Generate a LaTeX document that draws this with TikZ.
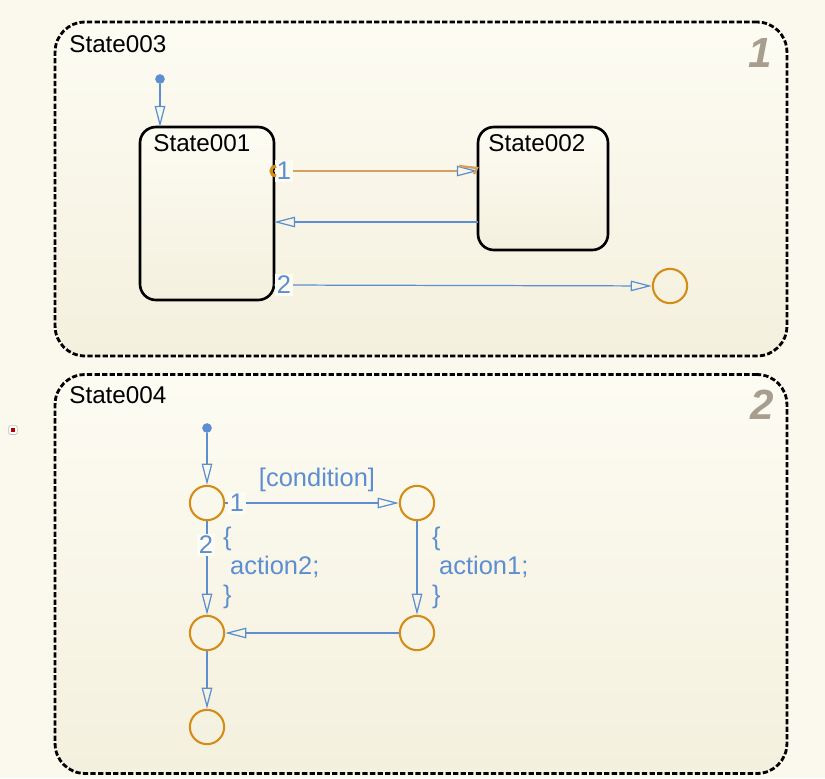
\documentclass[tikz,border=0pt]{standalone}
\usepackage{fontspec}
\setmainfont{Liberation Sans}
\usetikzlibrary{arrows.meta,positioning}
\definecolor{PageColor}{RGB}{251,249,237}
\definecolor{BoxTop}{RGB}{253,252,243}
\definecolor{BoxBottom}{RGB}{244,240,222}
\definecolor{TransColor}{RGB}{92,142,208}
\definecolor{JunctionColor}{RGB}{212,142,24}
\definecolor{ActiveColor}{RGB}{214,160,96}
\definecolor{NumberColor}{RGB}{168,158,142}
\tikzset{
  chartbox/.style={draw=black, line width=1.6pt, dash pattern=on 3pt off 1.3pt, rounded corners=17pt, top color=BoxTop, bottom color=BoxBottom, minimum width=#1},
  statebox/.style={draw=black, line width=1.5pt, rounded corners=9pt, top color=BoxTop, bottom color=BoxBottom, minimum width=#1},
  junction/.style={circle, draw=JunctionColor, line width=1.2pt, minimum size=19.5pt, inner sep=0pt},
  defaultdot/.style={circle, fill=TransColor, inner sep=0pt, minimum size=5.5pt},
  chartname/.style={anchor=west, font=\fontsize{13.8}{16}\selectfont, inner sep=0pt},
  chartnumber/.style={font=\fontsize{24}{28}\selectfont\bfseries\itshape, text=NumberColor},
  translabel/.style={font=\fontsize{14.5}{16.5}\selectfont, text=TransColor, inner sep=1pt},
  transorder/.style={font=\fontsize{14.5}{16.5}\selectfont, text=TransColor, fill=BoxTop, inner sep=1pt},
  trans/.style={draw=TransColor, line width=0.7pt, -{Triangle[open, length=12pt, width=6pt, line width=0.7pt, color=TransColor]}},
}
\begin{document}
\begin{tikzpicture}[x=0.02cm, y=-0.02cm]
  \fill[PageColor] (0,0) rectangle (825,778);
  \useasboundingbox (0,0) rectangle (825,778);

  \node[draw=gray!50, fill=white, minimum size=5pt, inner sep=0pt, rounded corners=1pt] (icon) at (13,430) {};
  \node[fill=red!70!black, minimum size=2pt, inner sep=0pt] (icondot) at (13,430) {};

  \node[chartbox=14.64cm, minimum height=6.68cm] (State003) at (421,189) {};
  \node[chartbox=14.64cm, minimum height=7.98cm] (State004) at (421,574) {};
  \node[chartname] (name003) at (69,44) {State003};
  \node[chartname] (name004) at (69,395) {State004};
  \node[chartnumber] (num1) at (760,53) {1};
  \node[chartnumber] (num2) at (762,405) {2};

  \node[statebox=2.68cm, minimum height=3.46cm] (State001) at (207,213.5) {};
  \node[statebox=2.6cm, minimum height=2.46cm] (State002) at (543,188.5) {};
  \node[chartname] (name001) at (153,143) {State001};
  \node[chartname] (name002) at (488,143) {State002};

  \node[defaultdot] (dflt1) at (160,79) {};
  \node[junction] (J0) at (670,286) {};

  \coordinate (s1a) at (274,171);
  \coordinate (s2a) at (478,171);
  \coordinate (s2b) at (478,222);
  \coordinate (s1b) at (274,222);
  \coordinate (s1c) at (274,285);
  \coordinate (s1top) at (160,127);

  \draw[trans] (dflt1) -- (s1top);
  \draw[trans, draw=ActiveColor, line width=1.3pt] (s1a) -- (s2a);
  \draw[trans] (s2b) -- (s1b);
  \draw[trans] (s1c) -- (J0);
  \draw[ActiveColor, line width=1.3pt] (459,166) -- (477,168) -- (474,174);
  \node[transorder] (ord11) at (284,171) {1};
  \node[transorder] (ord12) at (284,285) {2};
  \draw[JunctionColor, line width=1.8pt] (276,176) arc[start angle=90, end angle=270, radius=5];

  \node[defaultdot] (dflt2) at (207,428) {};
  \node[junction] (J1) at (207,503) {};
  \node[junction] (J2) at (417,503) {};
  \node[junction] (J3) at (417,633) {};
  \node[junction] (J4) at (207,633) {};
  \node[junction] (J5) at (207,727) {};

  \draw[trans] (dflt2) -- (J1);
  \draw[trans] (J1) -- (J2);
  \draw[trans] (J2) -- (J3);
  \draw[trans] (J3) -- (J4);
  \draw[trans] (J1) -- (J4);
  \draw[trans] (J4) -- (J5);

  \node[transorder] (ord21) at (237,503) {1};
  \node[transorder] (ord22) at (206,545) {2};
  \node[translabel] (cond) at (317,480) {[condition]};
  \node[translabel, anchor=west, align=left] (act2) at (221,568) {\{\\\hspace{4pt}action2;\\\}};
  \node[translabel, anchor=west, align=left] (act1) at (430,568) {\{\\\hspace{4pt}action1;\\\}};
\end{tikzpicture}
\end{document}
